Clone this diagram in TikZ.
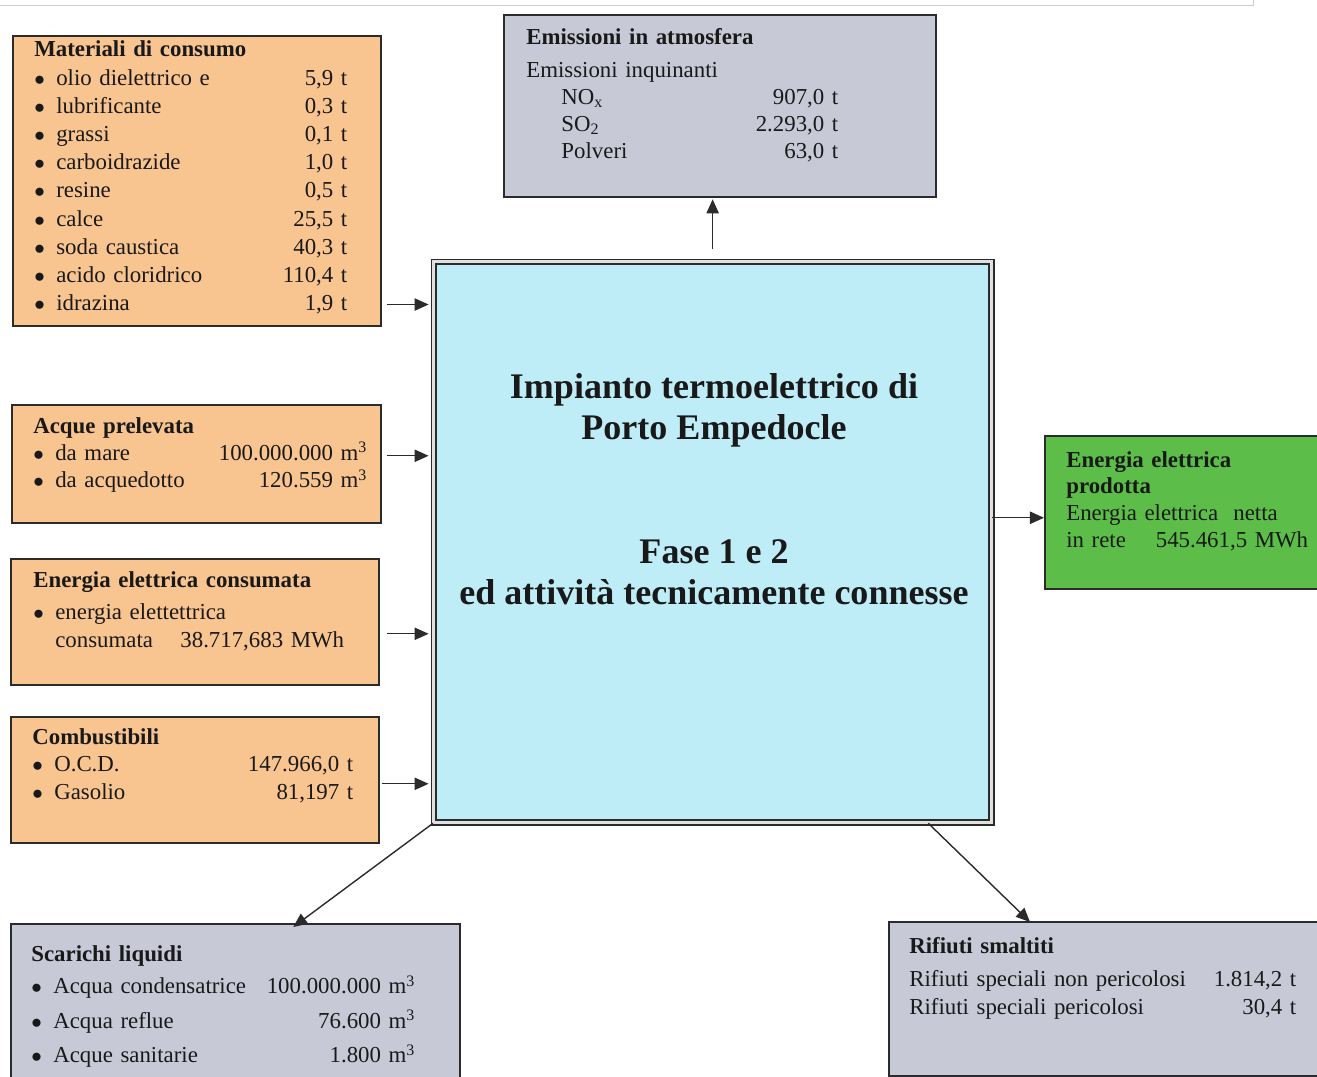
\documentclass[tikz,border=0pt]{standalone}
\usepackage{fontspec}
\setmainfont{Liberation Serif}
\usetikzlibrary{arrows.meta}

\definecolor{inorange}{HTML}{F8C48F}
\definecolor{outgray}{HTML}{C8C9D7}
\definecolor{plantcyan}{HTML}{BEEDF8}
\definecolor{prodgreen}{HTML}{5CBE48}
\definecolor{edge}{HTML}{2B2B2B}

\newcommand{\itm}{\makebox[12.5pt][l]{$\bullet$}}
\newcommand{\pushright}{\hspace{0pt plus 1filll}}

\tikzset{
  box/.style={draw=edge, line width=0.9pt, inner sep=0pt, anchor=north west},
  inbox/.style={box, fill=inorange},
  outbox/.style={box, fill=outgray},
  prodbox/.style={box, fill=prodgreen},
  plant/.style={draw=edge, line width=0.8pt, double=black!12, double distance=2pt,
    fill=plantcyan, inner sep=0pt, anchor=north west},
  boxtext/.style={anchor=base west, inner sep=0pt, align=left, text=black!90},
  flow/.style={-{Triangle[length=8pt,width=7pt]}, line width=0.8pt, draw=edge},
}

\begin{document}
\begin{tikzpicture}[x=0.02cm, y=-0.02cm]
  \useasboundingbox (0,0) rectangle (1317,1077);

  % faint frame at the top
  \draw[black!20, line width=0.5pt] (0,5) -- (1253,5) -- (1253,0);

  % central plant
  \node[plant, minimum width=11.16cm, minimum height=11.22cm] (plant) at (433,261) {};
  \node[anchor=north, align=center, text=black!90,
    font=\bfseries\fontsize{20.5}{23.5}\selectfont] (plantname) at (714,367)
    {Impianto termoelettrico di\\ Porto Empedocle\\[47pt] Fase 1 e 2\\ ed attività tecnicamente connesse};

  % inputs
  \node[inbox, minimum width=7.36cm, minimum height=5.8cm] (mat) at (12,35) {};
  \node[boxtext, text width=6.26cm, font=\fontsize{13}{16.05}\selectfont] (mattxt) at (34,57)
    {\textbf{Materiali di consumo}\\
     \itm olio dielettrico e\pushright 5,9 t\\
     \itm lubrificante\pushright 0,3 t\\
     \itm grassi\pushright 0,1 t\\
     \itm carboidrazide\pushright 1,0 t\\
     \itm resine\pushright 0,5 t\\
     \itm calce\pushright 25,5 t\\
     \itm soda caustica\pushright 40,3 t\\
     \itm acido cloridrico\pushright 110,4 t\\
     \itm idrazina\pushright 1,9 t};

  \node[inbox, minimum width=7.38cm, minimum height=2.36cm] (acq) at (11,404) {};
  \node[boxtext, text width=6.68cm, font=\fontsize{13}{15.6}\selectfont] (acqtxt) at (33,433)
    {\textbf{Acque prelevata}\\
     \itm da mare\pushright 100.000.000 m\textsuperscript{3}\\
     \itm da acquedotto\pushright 120.559 m\textsuperscript{3}};

  \node[inbox, minimum width=7.36cm, minimum height=2.52cm] (ene) at (10,558) {};
  \node[boxtext, text width=6.6cm, font=\fontsize{13}{15.9}\selectfont] (enetxt) at (33,587)
    {\textbf{Energia elettrica consumata}\\[2.8pt]
     \itm energia elettettrica\\
     \hspace*{12.5pt}consumata\hspace{1.2em}38.717,683 MWh};

  \node[inbox, minimum width=7.36cm, minimum height=2.52cm] (comb) at (10,716) {};
  \node[boxtext, text width=6.42cm, font=\fontsize{13}{15.9}\selectfont] (combtxt) at (32,744)
    {\textbf{Combustibili}\\
     \itm O.C.D.\pushright 147.966,0 t\\
     \itm Gasolio\pushright 81,197 t};

  % outputs
  \node[outbox, minimum width=8.64cm, minimum height=3.64cm] (emis) at (503,14) {};
  \node[boxtext, text width=6.24cm, font=\fontsize{13}{15.3}\selectfont] (emistxt) at (526,45)
    {\textbf{Emissioni in atmosfera}\\[3.4pt]
     Emissioni inquinanti\\
     \hspace*{20pt}NO\textsubscript{x}\pushright 907,0 t\\
     \hspace*{20pt}SO\textsubscript{2}\pushright 2.293,0 t\\
     \hspace*{20pt}Polveri\pushright 63,0 t};

  \node[prodbox, minimum width=5.8cm, minimum height=3.06cm] (prod) at (1044,435) {};
  \node[boxtext, text width=5cm, font=\fontsize{13}{15.3}\selectfont] (prodtxt) at (1066,467)
    {\textbf{Energia elettrica}\\
     \textbf{prodotta}\\
     Energia elettrica\ \ netta\\
     in rete\hspace{17pt}545.461,5 MWh};

  \node[outbox, minimum width=8.98cm, minimum height=3.4cm] (scar) at (10,923) {};
  \node[boxtext, text width=7.68cm, font=\fontsize{13}{19.6}\selectfont] (scartxt) at (31,961)
    {\textbf{Scarichi liquidi}\\[-0.9pt]
     \itm Acqua condensatrice\pushright 100.000.000 m\textsuperscript{3}\\
     \itm Acqua reflue\pushright 76.600 m\textsuperscript{3}\\
     \itm Acque sanitarie\pushright 1.800 m\textsuperscript{3}};

  \node[outbox, minimum width=8.7cm, minimum height=3.08cm] (rif) at (888,921) {};
  \node[boxtext, text width=7.74cm, font=\fontsize{13}{15.6}\selectfont] (riftxt) at (909,953)
    {\textbf{Rifiuti smaltiti}\\[3.7pt]
     Rifiuti speciali non pericolosi\pushright 1.814,2 t\\
     Rifiuti speciali pericolosi\pushright 30,4 t};

  % flows into the plant
  \path ([shift={(5,-22)}]mat.south east) coordinate (matout);
  \path ([shift={(5,-8)}]acq.east) coordinate (acqout);
  \path ([shift={(7,12)}]ene.east) coordinate (eneout);
  \path ([shift={(2,4)}]comb.east) coordinate (combout);
  \draw[flow, shorten >=2.5pt] (matout) -- (matout -| plant.west);
  \draw[flow, shorten >=2.5pt] (acqout) -- (acqout -| plant.west);
  \draw[flow, shorten >=2.5pt] (eneout) -- (eneout -| plant.west);
  \draw[flow, shorten >=2.5pt] (combout) -- (combout -| plant.west);

  % flows out of the plant
  \draw[flow, shorten >=1pt] ([shift={(0,-12)}]plant.north) -- (plant.north |- emis.south);
  \path ([shift={(0,5.5)}]prod.west) coordinate (prodin);
  \draw[flow] (prodin -| plant.east) -- (prodin);
  \draw[flow] (plant.south west) -- ([shift={(58,4)}]scar.north);
  \draw[flow] ([shift={(-64,0)}]plant.south east) -- ([shift={(142,1)}]rif.north west);
\end{tikzpicture}
\end{document}
